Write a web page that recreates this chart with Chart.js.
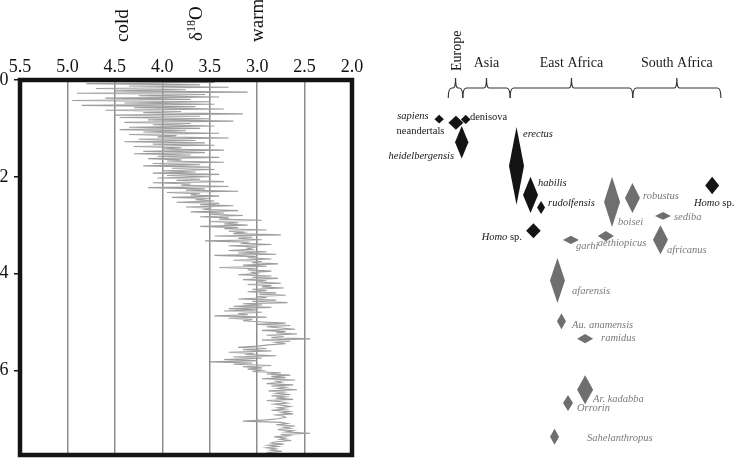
<!DOCTYPE html>
<html lang="en">
<head>
  <meta charset="UTF-8">
  <title>Oxygen isotopes and hominin species</title>
  <style>
    body { margin: 0; background: #fff; }
    #wrap { position: relative; width: 734px; height: 460px; overflow: hidden; }
    #curve { position: absolute; left: 0; top: 0; }
    #species { position: absolute; left: 370px; top: 0; }
  </style>
</head>
<body>
  <div id="wrap">
    <canvas id="curve" width="370" height="460"></canvas>
    <canvas id="species" width="364" height="460"></canvas>
  </div>

  <script src="https://cdn.jsdelivr.net/npm/chart.js"></script>
  <script>
    // --- left panel: benthic d18O record, one value every 0.025 Ma from 0 Ma
    const AGE_STEP = 0.025;
    const d18O = [
      3.20, 4.55, 3.45, 4.80, 3.60, 4.35, 3.30, 4.70, 3.75, 4.50, 3.10, 4.90, 3.55, 4.25, 3.40, 4.60, 3.70, 4.95, 3.50, 4.40,
      3.45, 4.85, 3.65, 4.30, 3.35, 4.60, 3.80, 4.20, 3.15, 4.50, 3.60, 4.45, 3.50, 4.15, 3.25, 4.40, 3.70, 4.10, 3.45, 4.35,
      3.60, 4.45, 3.75, 4.20, 3.40, 4.35, 3.85, 4.05, 3.30, 4.25, 3.65, 4.40, 3.55, 4.10, 3.45, 4.30, 3.80, 4.00, 3.35, 4.20,
      3.55, 4.30, 3.70, 4.05, 3.40, 4.15, 3.80, 3.95, 3.35, 4.10, 3.60, 4.20, 3.50, 3.90, 3.45, 4.00, 3.65, 4.10, 3.40, 3.95,
      3.50, 4.05, 3.60, 3.85, 3.35, 4.10, 3.70, 3.80, 3.30, 4.15, 3.55, 3.75, 3.20, 3.95, 3.60, 3.70, 3.40, 3.90, 3.50, 3.65,
      3.45, 3.85, 3.40, 3.60, 3.25, 3.75, 3.50, 3.55, 3.20, 3.70, 3.35, 3.50, 3.15, 3.60, 3.30, 3.40, 2.95, 3.50, 3.20, 3.35,
      3.10, 3.60, 3.20, 3.35, 2.90, 3.30, 3.15, 3.25, 2.75, 3.45, 3.05, 3.20, 2.95, 3.55, 3.10, 3.15, 2.85, 3.30, 3.00, 3.10,
      3.05, 3.30, 2.90, 3.20, 2.80, 3.45, 3.00, 3.10, 2.85, 3.25, 2.95, 3.05, 2.78, 3.15, 2.90, 3.40, 3.00, 3.10, 2.85, 3.05,
      3.00, 3.20, 2.85, 3.05, 2.78, 3.15, 2.90, 3.00, 2.75, 3.10, 2.85, 2.95, 2.72, 3.05, 2.90, 3.10, 2.80, 2.98, 2.70, 3.00,
      2.90, 3.20, 2.80, 3.05, 2.68, 3.15, 2.95, 3.25, 2.85, 3.30, 3.00, 3.35, 2.95, 3.20, 3.10, 3.45, 2.90, 3.30, 3.05, 3.15,
      2.95, 2.70, 3.00, 2.65, 2.90, 2.75, 2.60, 2.95, 2.70, 2.80, 2.58, 2.90, 2.72, 2.85, 2.44, 2.95, 2.65, 2.80, 2.70, 2.88,
      3.00, 3.20, 2.90, 3.15, 2.85, 3.30, 3.05, 3.10, 2.80, 3.25, 2.95, 3.35, 3.00, 3.50, 3.05, 3.25, 2.85, 3.15, 2.95, 3.10,
      2.95, 3.05, 2.75, 2.90, 2.65, 2.85, 2.70, 2.95, 2.60, 2.80, 2.75, 2.90, 2.62, 2.85, 2.70, 2.78, 2.58, 2.88, 2.72, 2.80,
      2.65, 2.85, 2.70, 2.80, 2.62, 2.90, 2.75, 2.68, 2.82, 2.72, 2.65, 2.78, 2.70, 2.85, 2.66, 2.74, 2.62, 2.80, 2.72, 2.70,
      2.78, 2.90, 3.15, 2.75, 2.68, 2.80, 2.60, 2.72, 2.65, 2.78, 2.62, 2.70, 2.44, 2.75, 2.66, 2.82, 2.70, 2.76, 2.64, 2.80,
      2.85, 2.72, 2.88, 2.78, 2.90, 2.80, 2.86, 2.74, 2.88, 2.82, 2.85
    ];
    const X_TICKS = [5.5, 5.0, 4.5, 4.0, 3.5, 3.0, 2.5, 2.0];
    const Y_TICKS = [0, 2, 4, 6];
    const AGE_MAX = 7.75;

    // --- right panel: hominin species, region position and age span
    const SPECIES = ['sapiens', 'neandertals', 'heidelbergensis', 'denisova', 'erectus', 'habilis', 'rudolfensis',
      'Homo sp.', 'Homo sp.', 'boisei', 'robustus', 'sediba', 'africanus', 'aethiopicus', 'garhi', 'afarensis',
      'Au. anamensis', 'ramidus', 'Ar. kadabba', 'Orrorin', 'Sahelanthropus'];
    const IS_HOMO    = [1, 1, 1, 1, 1, 1, 1, 1, 1, 0, 0, 0, 0, 0, 0, 0, 0, 0, 0, 0, 0];
    const REGION_POS = [19.0, 23.6, 25.2, 26.3, 40.25, 44.1, 47.0, 44.9, 94.0, 66.5, 72.1, 80.5, 79.8, 64.8, 55.2, 51.5, 52.6, 59.1, 59.1, 54.4, 50.7];
    const AGE_YOUNG  = [0.72, 0.74, 0.95, 0.72, 0.97, 2.00, 2.50, 2.96, 2.00, 2.00, 2.13, 2.73, 3.00, 3.12, 3.22, 3.68, 4.82, 5.25, 6.10, 6.51, 7.21];
    const AGE_OLD    = [0.90, 1.03, 1.62, 0.91, 2.58, 2.75, 2.77, 3.27, 2.36, 3.04, 2.75, 2.89, 3.60, 3.33, 3.39, 4.61, 5.15, 5.44, 6.70, 6.84, 7.54];
    const SPREAD     = [1.29, 2.06, 1.84, 1.33, 2.06, 2.06, 1.10, 2.00, 1.92, 2.20, 2.06, 2.20, 2.06, 2.20, 2.20, 2.06, 1.24, 2.20, 2.20, 1.37, 1.24];

    const REGIONS = ['Europe', 'Asia', 'East Africa', 'South Africa'];
    const REGION_EDGES = [21.5, 25.5, 38.5, 72.2, 96.4];

    // label placement (px offset from diamond centre, alignment, style i/r/h)
    const LABEL_AT = [
      [-10.5, -2.5, 'right', 'i'], [-11.5, 8, 'right', 'r'], [-7.7, 14, 'right', 'i'], [4.2, -2.5, 'left', 'r'],
      [6.5, -32, 'left', 'i'], [7.5, -12, 'left', 'i'], [7, -4.5, 'left', 'i'], [-11.5, 7, 'right', 'h'],
      [2, 18, 'center', 'h'], [6, 20.5, 'left', 'i'], [10.5, -1.5, 'left', 'i'], [11, 1.5, 'left', 'i'],
      [6.5, 10.5, 'left', 'i'], [-8, 7.5, 'left', 'i'], [5, 6.5, 'left', 'i'], [14.5, 11, 'left', 'i'],
      [10.5, 4, 'left', 'i'], [16, 0, 'left', 'i'], [8, 9.5, 'left', 'i'], [9, 5.5, 'left', 'i'], [32.5, 1.5, 'left', 'i']
    ];

    const SERIF = "'Liberation Serif', 'DejaVu Serif', serif";
    const INK = '#141414';
    const GREY = '#6f6f6f';

    // ---------- left chart ----------
    const curveExtras = {
      id: 'curveExtras',
      afterDatasetsDraw(chart) {
        const {ctx, chartArea: a, scales} = chart;
        ctx.save();
        ctx.strokeStyle = INK;
        ctx.lineWidth = 4.5;
        ctx.strokeRect(a.left, a.top, a.right - a.left, a.bottom - a.top);
        ctx.restore();

        // rotated notes above the axis
        const notes = [['cold', 4.42, 6], ['warm', 3.0, 5.5]];
        ctx.save();
        ctx.fillStyle = '#111';
        ctx.font = '19px ' + SERIF;
        ctx.textBaseline = 'alphabetic';
        notes.forEach(n => {
          ctx.save();
          ctx.translate(scales.x.getPixelForValue(n[1]) + n[2], 42);
          ctx.rotate(-Math.PI / 2);
          ctx.fillText(n[0], 0, 0);
          ctx.restore();
        });
        // delta 18 O
        ctx.translate(scales.x.getPixelForValue(3.63) + 5, 41);
        ctx.rotate(-Math.PI / 2);
        ctx.fillText('δ', 0, 0);
        let w = ctx.measureText('δ').width;
        ctx.font = '12px ' + SERIF;
        ctx.fillText('18', w, -7);
        w += ctx.measureText('18').width;
        ctx.font = '19px ' + SERIF;
        ctx.fillText('O', w, 0);
        ctx.restore();
      }
    };

    new Chart(document.getElementById('curve'), {
      type: 'line',
      data: {
        datasets: [{
          data: d18O.map((v, i) => ({x: v, y: i * AGE_STEP})),
          borderColor: '#9e9e9e',
          borderWidth: 1.1,
          pointRadius: 0,
          tension: 0,
          fill: false
        }]
      },
      options: {
        responsive: false,
        animation: false,
        layout: {padding: {left: 0, right: 18, top: 0, bottom: 5}},
        plugins: {legend: {display: false}, tooltip: {enabled: false}},
        scales: {
          x: {
            type: 'linear', position: 'top', min: 2, max: 5.5, reverse: true,
            afterBuildTicks: s => { s.ticks = X_TICKS.map(v => ({value: v})); },
            afterFit: s => { s.height = 80; s.paddingLeft = 0; s.paddingRight = 0; },
            ticks: {
              font: {family: SERIF, size: 18}, color: '#111', padding: 2,
              maxRotation: 0, autoSkip: false, callback: v => v.toFixed(1)
            },
            grid: {color: '#8c8c8c', lineWidth: 1.5, drawTicks: false},
            border: {display: false}
          },
          y: {
            type: 'linear', min: 0, max: AGE_MAX, reverse: true,
            afterBuildTicks: s => { s.ticks = Y_TICKS.map(v => ({value: v})); },
            afterFit: s => { s.width = 20; s.paddingTop = 0; s.paddingBottom = 0; },
            ticks: {font: {family: SERIF, size: 18}, color: '#111', padding: 5.5},
            grid: {drawOnChartArea: false, tickLength: 6, color: '#111', lineWidth: 1.5},
            border: {display: false}
          }
        }
      },
      plugins: [curveExtras]
    });

    // ---------- right chart ----------
    function diamond(i) {
      const c = REGION_POS[i], h = SPREAD[i];
      const mid = (AGE_YOUNG[i] + AGE_OLD[i]) / 2;
      return [
        {x: c, y: AGE_YOUNG[i]}, {x: c + h, y: mid}, {x: c, y: AGE_OLD[i]},
        {x: c - h, y: mid}, {x: c, y: AGE_YOUNG[i]}
      ];
    }

    const speciesExtras = {
      id: 'speciesExtras',
      afterDatasetsDraw(chart) {
        const {ctx, scales: {x, y}} = chart;

        // region header with braces
        ctx.save();
        ctx.strokeStyle = '#333';
        ctx.lineWidth = 1.2;
        const yl = 88;
        for (let r = 0; r < REGIONS.length; r++) {
          const a = x.getPixelForValue(REGION_EDGES[r]);
          const b = x.getPixelForValue(REGION_EDGES[r + 1]);
          const m = (a + b) / 2;
          ctx.beginPath();
          ctx.moveTo(a, yl + 10);
          ctx.quadraticCurveTo(a, yl, a + 3.5, yl);
          ctx.lineTo(m - 2.5, yl);
          ctx.quadraticCurveTo(m, yl, m, yl - 10);
          ctx.quadraticCurveTo(m, yl, m + 2.5, yl);
          ctx.lineTo(b - 3.5, yl);
          ctx.quadraticCurveTo(b, yl, b, yl + 10);
          ctx.stroke();

          ctx.fillStyle = '#1a1a1a';
          ctx.font = '14px ' + SERIF;
          if (r === 0) {
            ctx.save();
            ctx.translate(m + 5.5, 71);
            ctx.rotate(-Math.PI / 2);
            ctx.textAlign = 'left';
            ctx.fillText(REGIONS[r], 0, 0);
            ctx.restore();
          } else {
            ctx.textAlign = 'center';
            ctx.fillText(REGIONS[r], m, 66.5);
          }
        }
        ctx.restore();

        // species labels
        ctx.save();
        ctx.textBaseline = 'middle';
        SPECIES.forEach((name, i) => {
          const [dx, dy, align, style] = LABEL_AT[i];
          const cx = x.getPixelForValue(REGION_POS[i]) + dx;
          const cy = y.getPixelForValue((AGE_YOUNG[i] + AGE_OLD[i]) / 2) + dy;
          ctx.fillStyle = IS_HOMO[i] ? '#161616' : '#7a7a7a';
          let parts;
          if (style === 'h') parts = [['Homo', 'italic '], [' sp.', '']];
          else parts = [[name, style === 'i' ? 'italic ' : '']];
          const widths = parts.map(p => { ctx.font = p[1] + '10.5px ' + SERIF; return ctx.measureText(p[0]).width; });
          const total = widths.reduce((s, w) => s + w, 0);
          let px = align === 'left' ? cx : align === 'right' ? cx - total : cx - total / 2;
          ctx.textAlign = 'left';
          parts.forEach((p, k) => {
            ctx.font = p[1] + '10.5px ' + SERIF;
            ctx.fillText(p[0], px, cy);
            px += widths[k];
          });
        });
        ctx.restore();
      }
    };

    new Chart(document.getElementById('species'), {
      type: 'line',
      data: {
        datasets: SPECIES.map((name, i) => ({
          label: name,
          data: diamond(i),
          fill: 'shape',
          backgroundColor: IS_HOMO[i] ? INK : GREY,
          borderWidth: 0,
          pointRadius: 0,
          tension: 0
        }))
      },
      options: {
        responsive: false,
        animation: false,
        layout: {padding: {left: 0, right: 0, top: 80, bottom: 5}},
        plugins: {legend: {display: false}, tooltip: {enabled: false}},
        scales: {
          x: {type: 'linear', min: 0, max: 100, display: false},
          y: {type: 'linear', min: 0, max: AGE_MAX, reverse: true, display: false}
        }
      },
      plugins: [speciesExtras]
    });
  </script>
</body>
</html>
